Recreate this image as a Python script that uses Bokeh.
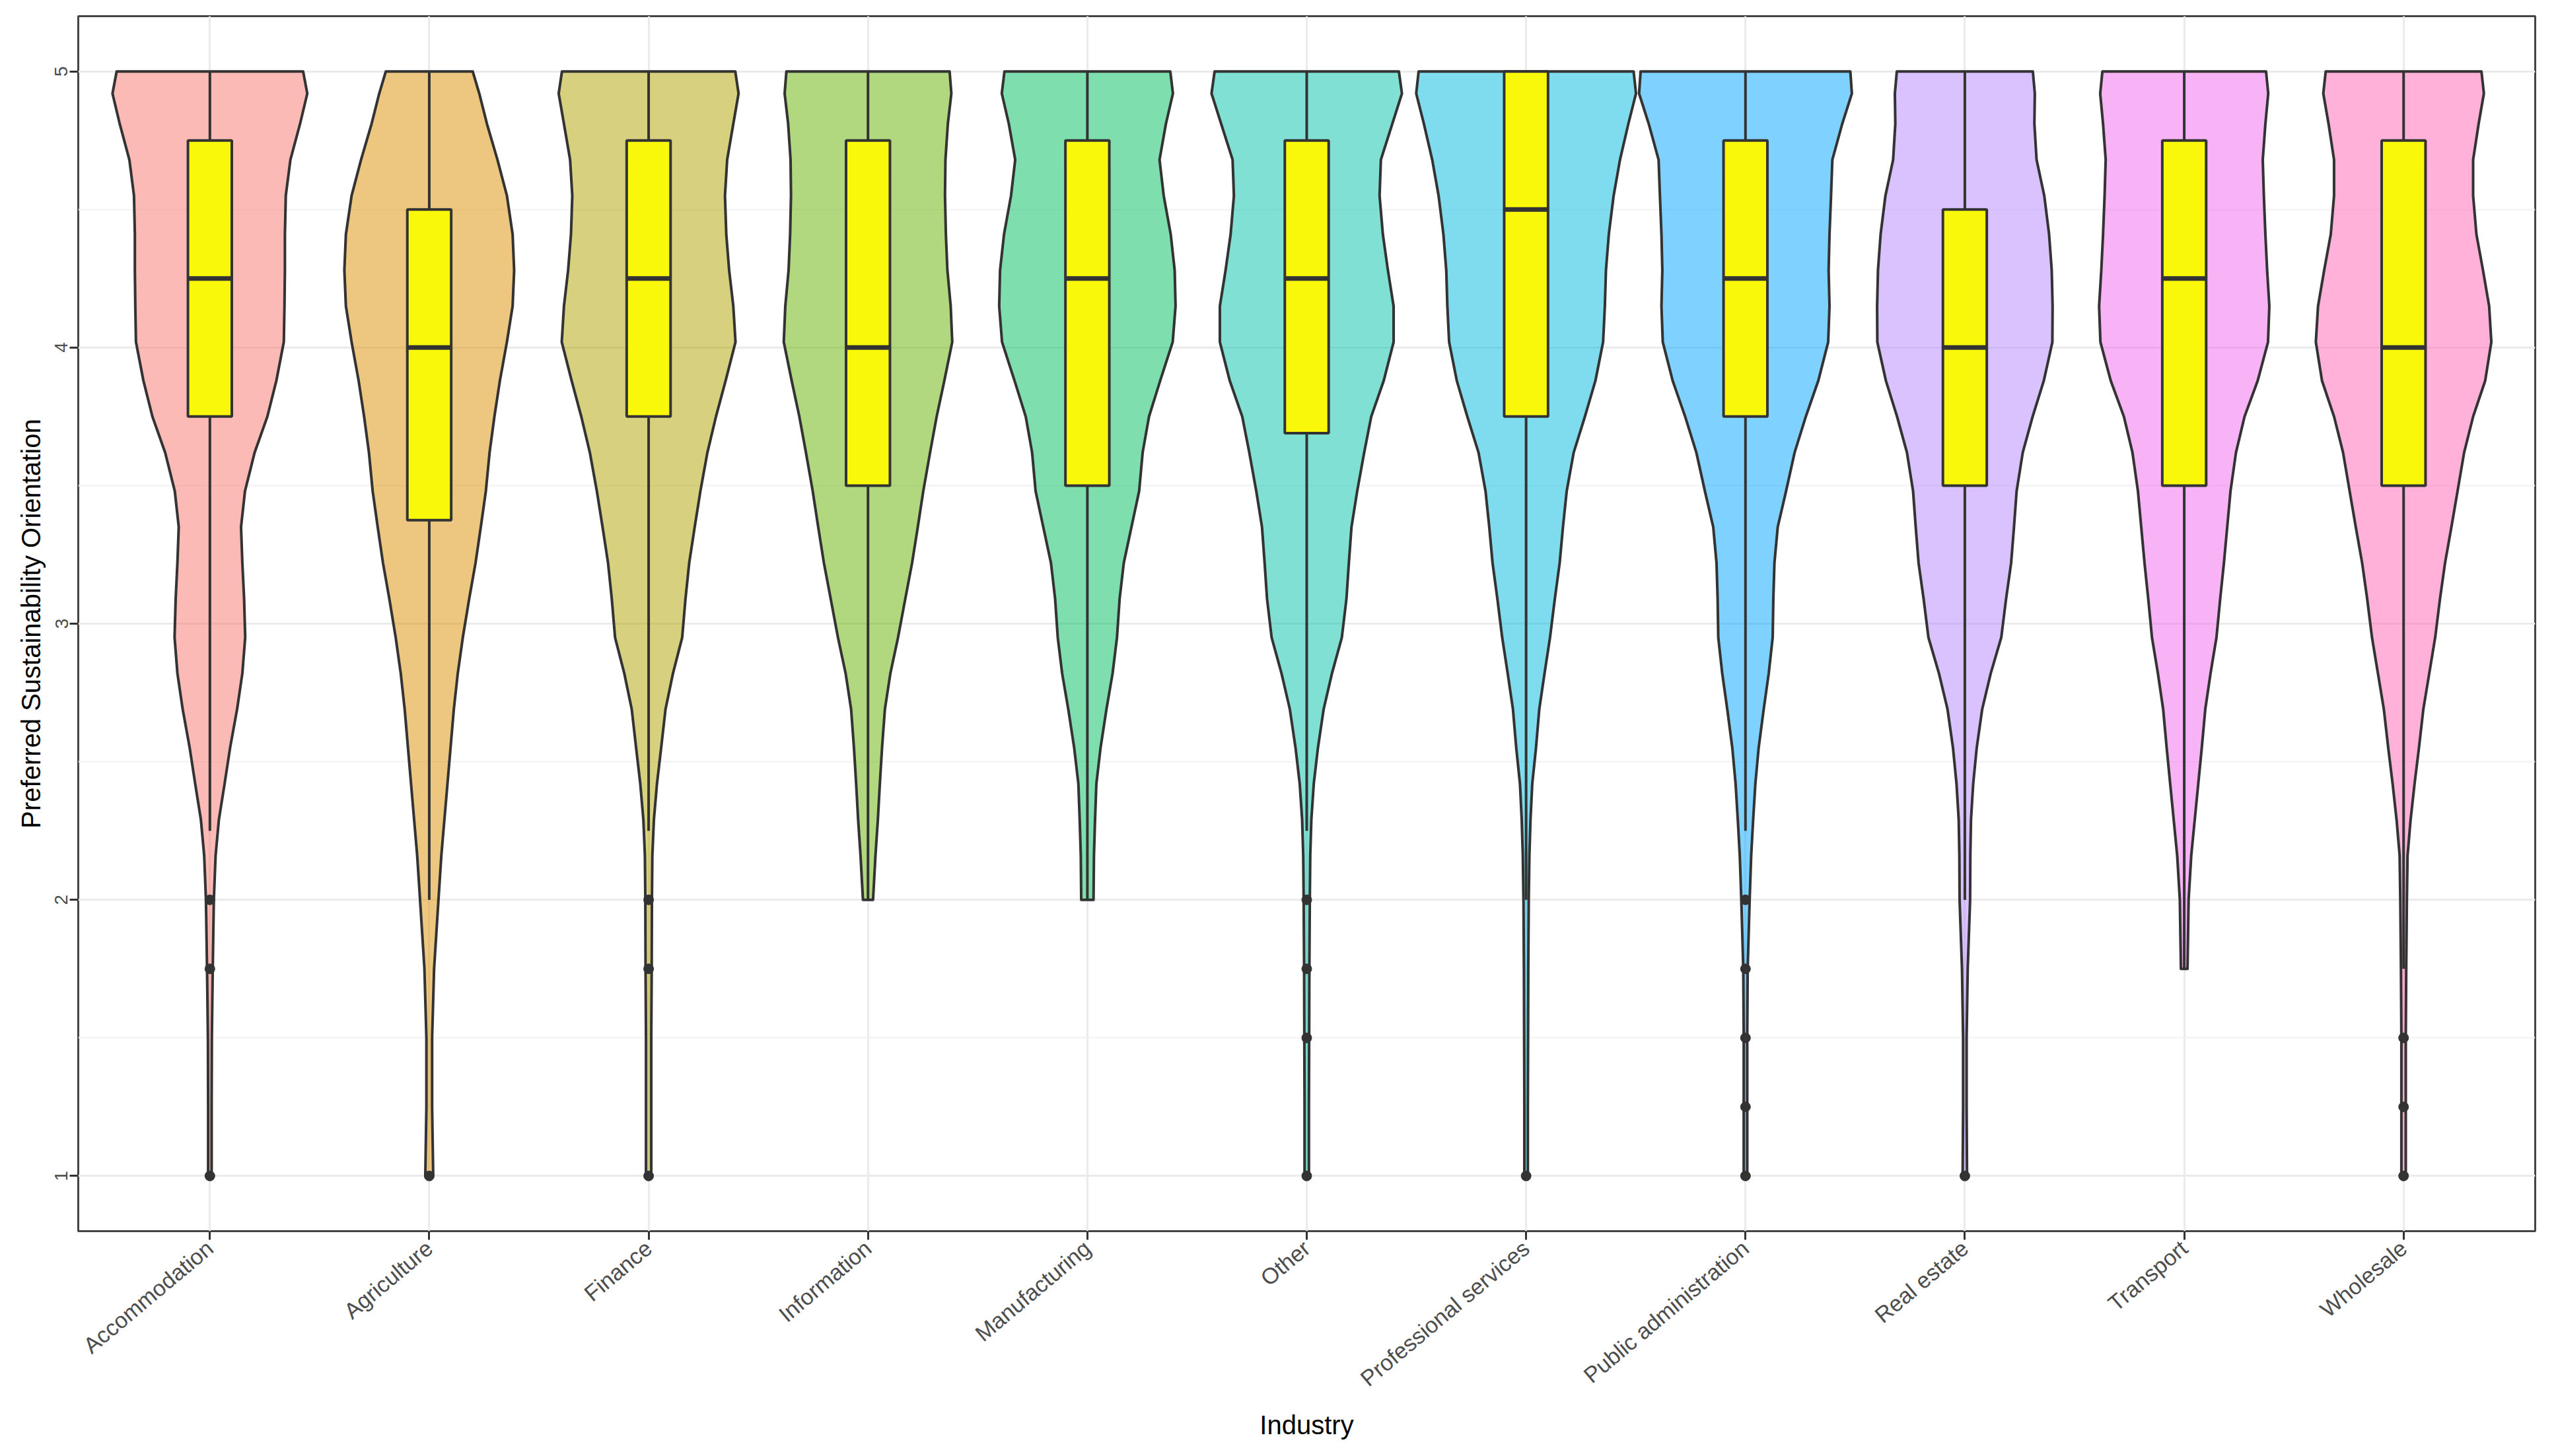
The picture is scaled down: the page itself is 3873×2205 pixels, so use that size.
from math import pi
from bokeh.plotting import figure
from bokeh.models import FixedTicker, Range1d
from bokeh.embed import file_html
from bokeh.resources import INLINE

# ---------------- data ----------------
categories = ["Accommodation", "Agriculture", "Finance", "Information", "Manufacturing",
              "Other", "Professional services", "Public administration", "Real estate",
              "Transport", "Wholesale"]

# y levels at which the violin half-widths (in category units) were read
levels = [5.0, 4.92, 4.81, 4.68, 4.55, 4.41, 4.28, 4.15, 4.02, 3.88, 3.75, 3.62, 3.48, 3.35,
          3.22, 3.09, 2.95, 2.82, 2.69, 2.55, 2.42, 2.29, 2.16, 2.0, 1.75, 1.5, 1.25, 1.0]

w_accommodation = [0.425, 0.444, 0.411, 0.367, 0.346, 0.342, 0.342, 0.340, 0.337, 0.303, 0.262, 0.204, 0.160, 0.142,
                   0.148, 0.156, 0.161, 0.148, 0.124, 0.092, 0.067, 0.041, 0.026, 0.018, 0.013, 0.009, 0.008, 0.008]
w_agriculture = [0.198, 0.228, 0.263, 0.311, 0.354, 0.380, 0.387, 0.380, 0.354, 0.322, 0.297, 0.275, 0.258, 0.235,
                 0.211, 0.182, 0.153, 0.130, 0.112, 0.097, 0.083, 0.069, 0.055, 0.042, 0.022, 0.013, 0.013, 0.018]
w_finance = [0.395, 0.410, 0.386, 0.358, 0.348, 0.354, 0.367, 0.386, 0.396, 0.351, 0.307, 0.268, 0.236, 0.210,
             0.185, 0.168, 0.153, 0.111, 0.077, 0.057, 0.038, 0.024, 0.017, 0.015, 0.014, 0.012, 0.012, 0.012]
w_information = [0.372, 0.380, 0.364, 0.353, 0.351, 0.355, 0.362, 0.377, 0.384, 0.348, 0.313, 0.283, 0.252, 0.227,
                 0.201, 0.170, 0.137, 0.102, 0.077, 0.064, 0.054, 0.045, 0.034, 0.023]
w_manufacturing = [0.378, 0.390, 0.358, 0.329, 0.348, 0.380, 0.398, 0.402, 0.389, 0.332, 0.281, 0.252, 0.236, 0.201,
                   0.166, 0.147, 0.135, 0.115, 0.087, 0.060, 0.041, 0.035, 0.030, 0.028]
w_other = [0.420, 0.434, 0.390, 0.338, 0.332, 0.347, 0.370, 0.396, 0.396, 0.351, 0.294, 0.262, 0.230, 0.204,
           0.192, 0.181, 0.160, 0.115, 0.077, 0.051, 0.032, 0.021, 0.016, 0.014, 0.012, 0.011, 0.010, 0.010]
w_professional = [0.490, 0.501, 0.466, 0.428, 0.399, 0.377, 0.364, 0.359, 0.351, 0.316, 0.268, 0.217, 0.185, 0.168,
                  0.153, 0.131, 0.109, 0.084, 0.060, 0.045, 0.028, 0.020, 0.015, 0.012, 0.010, 0.009, 0.008, 0.008]
w_public = [0.478, 0.485, 0.441, 0.396, 0.390, 0.383, 0.379, 0.383, 0.377, 0.332, 0.275, 0.224, 0.185, 0.147,
            0.132, 0.127, 0.124, 0.106, 0.083, 0.060, 0.045, 0.035, 0.026, 0.019, 0.010, 0.008, 0.008, 0.008]
w_real_estate = [0.310, 0.319, 0.317, 0.327, 0.362, 0.384, 0.396, 0.400, 0.399, 0.360, 0.309, 0.264, 0.236, 0.224,
                 0.211, 0.188, 0.166, 0.118, 0.079, 0.054, 0.038, 0.028, 0.025, 0.024, 0.013, 0.008, 0.008, 0.010]
w_transport = [0.373, 0.383, 0.370, 0.358, 0.363, 0.370, 0.378, 0.388, 0.382, 0.335, 0.275, 0.236, 0.211, 0.196,
               0.181, 0.164, 0.147, 0.120, 0.096, 0.080, 0.064, 0.048, 0.032, 0.020, 0.015]
w_wholesale = [0.355, 0.366, 0.342, 0.317, 0.317, 0.332, 0.362, 0.390, 0.400, 0.372, 0.317, 0.276, 0.246, 0.218,
               0.189, 0.166, 0.144, 0.117, 0.090, 0.070, 0.050, 0.032, 0.018, 0.015, 0.012, 0.010, 0.010, 0.010]

violin_widths = [w_accommodation, w_agriculture, w_finance, w_information, w_manufacturing, w_other,
                 w_professional, w_public, w_real_estate, w_transport, w_wholesale]

# box plot statistics
q1 = [3.75, 3.375, 3.75, 3.5, 3.5, 3.69, 3.75, 3.75, 3.5, 3.5, 3.5]
median = [4.25, 4.0, 4.25, 4.0, 4.25, 4.25, 4.5, 4.25, 4.0, 4.25, 4.0]
q3 = [4.75, 4.5, 4.75, 4.75, 4.75, 4.75, 5.0, 4.75, 4.5, 4.75, 4.75]
whisker_low = [2.25, 2.0, 2.25, 2.0, 2.0, 2.25, 2.0, 2.25, 2.0, 1.75, 1.75]
whisker_high = [5.0] * 11

outlier_category = ["Accommodation", "Accommodation", "Accommodation", "Agriculture",
                    "Finance", "Finance", "Finance",
                    "Other", "Other", "Other", "Other",
                    "Professional services",
                    "Public administration", "Public administration", "Public administration",
                    "Public administration", "Public administration",
                    "Real estate", "Wholesale", "Wholesale", "Wholesale"]
outlier_value = [2.0, 1.75, 1.0, 1.0,
                 2.0, 1.75, 1.0,
                 2.0, 1.75, 1.5, 1.0,
                 1.0,
                 2.0, 1.75, 1.5, 1.25, 1.0,
                 1.0, 1.5, 1.25, 1.0]

fill_colors = ["#F8766D", "#DB8E00", "#AEA200", "#64B200", "#00BD5C", "#00C1A7",
               "#00BADE", "#00A6FF", "#B385FF", "#EF67EB", "#FF63B6"]

y_ticks = [1, 2, 3, 4, 5]
y_minor_ticks = [1.5, 2.5, 3.5, 4.5]

# ---------------- figure ----------------
FONT = "Liberation Sans"
DARK = "#333333"

x_pos = list(range(1, len(categories) + 1))

p = figure(width=3857, height=2189,
           x_range=Range1d(0.4, len(categories) + 0.6), y_range=Range1d(0.8, 5.2),
           output_backend="svg", toolbar_location=None,
           min_border_left=118, min_border_right=19, min_border_top=24, min_border_bottom=325,
           background_fill_color="white", border_fill_color="white")

# violins
xs, ys = [], []
for xc, w in zip(x_pos, violin_widths):
    lv = levels[:len(w)]
    left_x = [xc - v for v in w]
    right_x = [xc + v for v in reversed(w)]
    xs.append(left_x + right_x)
    ys.append(lv + list(reversed(lv)))
p.patches(xs, ys, fill_color=fill_colors, fill_alpha=0.5,
          line_color=DARK, line_width=4, line_join="round")

# whiskers
p.segment(x0=x_pos, y0=whisker_low, x1=x_pos, y1=q1, line_color=DARK, line_width=4)
p.segment(x0=x_pos, y0=q3, x1=x_pos, y1=whisker_high, line_color=DARK, line_width=4)

# boxes
box_w = 0.2
p.quad(left=[x - box_w / 2 for x in x_pos], right=[x + box_w / 2 for x in x_pos],
       bottom=q1, top=q3, fill_color="#FAF80A", line_color=DARK, line_width=4)
p.segment(x0=[x - box_w / 2 for x in x_pos], y0=median, x1=[x + box_w / 2 for x in x_pos], y1=median,
          line_color=DARK, line_width=7)

# outliers
cat_index = {c: i + 1 for i, c in enumerate(categories)}
p.scatter([cat_index[c] for c in outlier_category], outlier_value, size=15,
          fill_color=DARK, line_color=DARK)

# axes
p.xaxis.ticker = FixedTicker(ticks=x_pos)
p.xaxis.major_label_overrides = {i + 1: c for i, c in enumerate(categories)}
p.yaxis.ticker = FixedTicker(ticks=y_ticks, minor_ticks=y_minor_ticks)

p.xaxis.axis_label = "Industry"
p.yaxis.axis_label = "Preferred Sustainability Orientation"

for ax in (p.xaxis, p.yaxis):
    ax.axis_line_color = None
    ax.major_tick_line_color = DARK
    ax.major_tick_line_width = 3
    ax.major_tick_out = 13
    ax.major_tick_in = 0
    ax.minor_tick_line_color = None
    ax.major_label_text_font = FONT
    ax.major_label_text_color = "#4D4D4D"
    ax.axis_label_text_font = FONT
    ax.axis_label_text_font_style = "normal"
    ax.axis_label_text_color = "black"
    ax.axis_label_text_font_size = "40px"

p.xaxis.major_label_text_font_size = "34px"
p.xaxis.major_label_orientation = 40 * pi / 180
p.xaxis.major_label_standoff = 8
p.xaxis.axis_label_standoff = 12

p.yaxis.major_label_text_font_size = "28px"
p.yaxis.major_label_orientation = "vertical"
p.yaxis.major_label_standoff = 3
p.yaxis.axis_label_standoff = 12

# grid
p.xgrid.ticker = FixedTicker(ticks=x_pos)
p.xgrid.grid_line_color = "#EBEBEB"
p.xgrid.grid_line_width = 3
p.ygrid.grid_line_color = "#EBEBEB"
p.ygrid.grid_line_width = 3
p.ygrid.minor_grid_line_color = "#F2F2F2"
p.ygrid.minor_grid_line_width = 2

p.outline_line_color = "#444444"
p.outline_line_width = 3

open("out.html", "w").write(file_html(p, INLINE))
